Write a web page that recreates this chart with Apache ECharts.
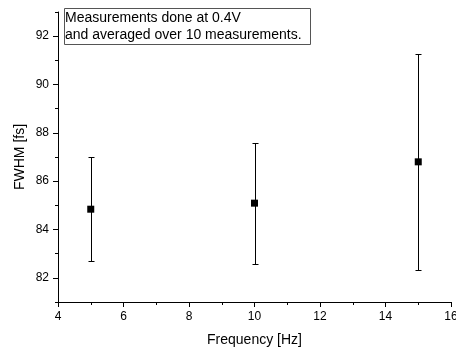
<!DOCTYPE html>
<html>
<head>
<meta charset="utf-8">
<script src="https://cdn.jsdelivr.net/npm/echarts@6/dist/echarts.min.js"></script>
<style>
  html, body { margin: 0; padding: 0; background: #fff; }
  #chart { width: 456px; height: 347px; }
</style>
</head>
<body>
<div id="chart"></div>
<script>
const freq = [5, 10, 15];
const fwhm = [84.84, 85.09, 86.80];
const fwhmErr = [2.15, 2.5, 4.46];

// tick positions for the FWHM axis
const yMajorTicks = [82, 84, 86, 88, 90, 92];
const yMinorTicks = [81, 83, 85, 87, 89, 91, 93];

const font = 'Liberation Sans, Arial, sans-serif';

const points = freq.map((f, i) => [f, fwhm[i]]);
const bars = freq.map((f, i) => [f, fwhm[i] - fwhmErr[i], fwhm[i] + fwhmErr[i]]);

const chart = echarts.init(document.getElementById('chart'));

const option = {
  animation: false,
  backgroundColor: '#fff',
  title: {
    text: 'Measurements done at 0.4V\nand averaged over 10 measurements.',
    left: 64,
    top: 8,
    padding: [2, 9, 1, 1],
    borderColor: '#555',
    borderWidth: 1,
    backgroundColor: '#fff',
    textStyle: { fontFamily: font, fontSize: 14, fontWeight: 'normal', color: '#000', lineHeight: 17 },
  },
  grid: { left: 58, right: 5, top: 12, bottom: 45, outerBoundsMode: 'none', containLabel: false },
  xAxis: {
    type: 'value',
    min: 4,
    max: 16,
    interval: 2,
    name: 'Frequency [Hz]',
    nameLocation: 'middle',
    nameGap: 31,
    nameMoveOverlap: false,
    nameTextStyle: { fontFamily: font, fontSize: 14, color: '#000' },
    axisLine: { show: true, onZero: false, lineStyle: { color: '#000', width: 1 } },
    axisTick: { show: true, length: 5, lineStyle: { color: '#000' } },
    minorTick: { show: true, splitNumber: 2, length: 3, lineStyle: { color: '#000' } },
    axisLabel: { fontFamily: font, fontSize: 12, color: '#000', margin: 9 },
    splitLine: { show: false },
  },
  yAxis: [
    {
      type: 'value',
      min: 81,
      max: 93,
      name: 'FWHM [fs]',
      nameLocation: 'middle',
      nameGap: 31,
      nameMoveOverlap: false,
      nameTextStyle: { fontFamily: font, fontSize: 14, color: '#000' },
      axisLine: { show: true, onZero: false, lineStyle: { color: '#000', width: 1 } },
      axisTick: { show: true, length: 5, customValues: yMajorTicks, lineStyle: { color: '#000' } },
      axisLabel: { fontFamily: font, fontSize: 12, color: '#000', margin: 9, customValues: yMajorTicks },
      splitLine: { show: false },
    },
    {
      type: 'value',
      min: 81,
      max: 93,
      position: 'left',
      axisLine: { show: false },
      axisTick: { show: true, length: 3, customValues: yMinorTicks, lineStyle: { color: '#000' } },
      axisLabel: { show: false, customValues: yMinorTicks },
      splitLine: { show: false },
    },
  ],
  series: [
    {
      type: 'custom',
      xAxisIndex: 0,
      yAxisIndex: 0,
      data: bars,
      silent: true,
      renderItem: (params, api) => {
        const x = api.value(0);
        const lo = api.coord([x, api.value(1)]);
        const hi = api.coord([x, api.value(2)]);
        const px = Math.round(lo[0]) + 0.5;
        const yLo = Math.round(lo[1]) + 0.5;
        const yHi = Math.round(hi[1]) + 0.5;
        const cap = 3;
        const style = { stroke: '#000', lineWidth: 1 };
        return {
          type: 'group',
          children: [
            { type: 'line', shape: { x1: px, y1: yHi, x2: px, y2: yLo }, style },
            { type: 'line', shape: { x1: px - cap, y1: yHi, x2: px + cap, y2: yHi }, style },
            { type: 'line', shape: { x1: px - cap, y1: yLo, x2: px + cap, y2: yLo }, style },
          ],
        };
      },
    },
    {
      type: 'scatter',
      xAxisIndex: 0,
      yAxisIndex: 0,
      data: points,
      symbol: 'rect',
      symbolSize: 7,
      itemStyle: { color: '#000', opacity: 1 },
      z: 3,
    },
  ],
};

chart.setOption(option);
</script>
</body>
</html>
